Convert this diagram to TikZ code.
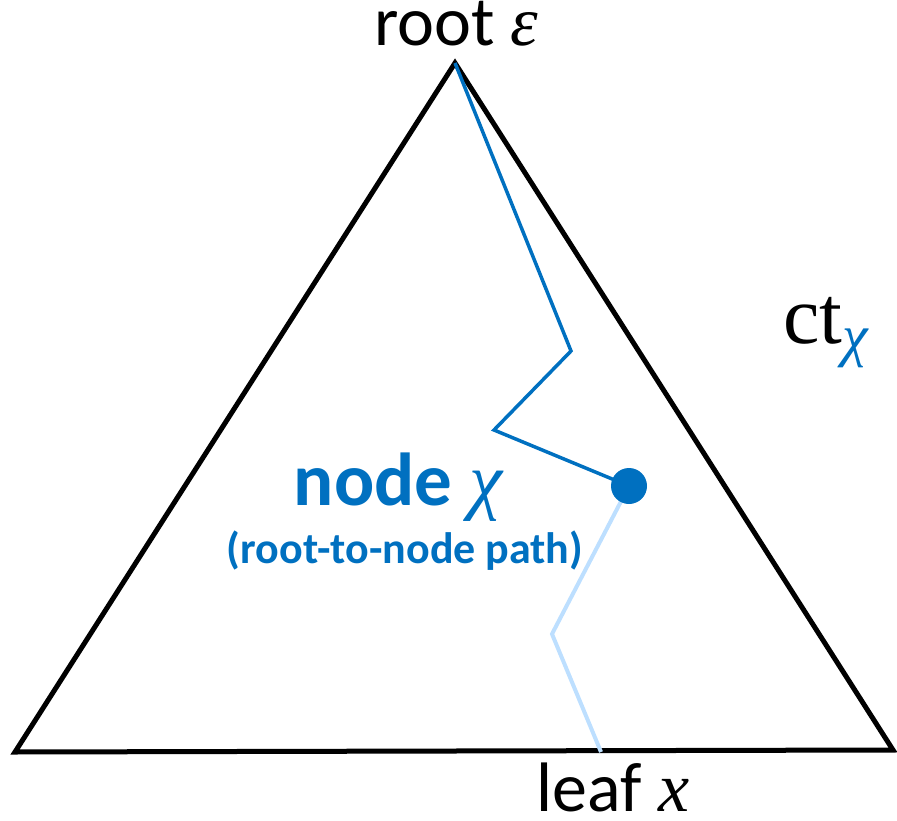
\documentclass[tikz,border=0pt]{standalone}
\usepackage{fontspec}
\setmainfont{Carlito}
\newfontfamily\symfont{Liberation Serif}
\definecolor{pathblue}{HTML}{0070C0}
\definecolor{leafblue}{HTML}{BDDFFF}
\newcommand{\sym}[1]{{\symfont\mdseries\itshape #1}}
\tikzset{
  tree/.style={line width=5pt,line join=miter},
  rootpath/.style={pathblue,line width=3.5pt,line join=miter},
  leafpath/.style={leafblue,line width=4pt,line join=miter},
  bigtxt/.style={font=\fontsize{70}{80}\selectfont,anchor=base,inner sep=0pt},
}
\begin{document}
\begin{tikzpicture}[x=1pt,y=-1pt]
    \useasboundingbox (0,0) rectangle (897,821);

    % the tree as a triangle
    \coordinate (apex) at (455,63);
    \coordinate (lft) at (15,752);
    \coordinate (rgt) at (893,750);
    \draw[tree] (apex) -- (rgt) -- (lft) -- cycle;

    % root-to-node path and the rest down to the leaf
    \coordinate (p1) at (571,351);
    \coordinate (p2) at (494,430);
    \coordinate (chi) at (629,486);
    \coordinate (q1) at (552,634);
    \coordinate (leaf) at (601,752);
    \draw[leafpath] (chi) -- (q1) -- (leaf);
    \draw[rootpath] (apex) -- (p1) -- (p2) -- (chi);
    \fill[pathblue] (chi) circle (18);

    \node[bigtxt] (rootlab) at (456,46) {root \sym{ε}};
    \node[bigtxt] (leaflab) at (613,811) {leaf \sym{x}};
    \node[bigtxt,anchor=base west,font=\fontsize{82}{90}\selectfont]
        (ctlab) at (783,343)
        {{\symfont ct}\raisebox{-12pt}{\fontsize{58}{60}\selectfont
         \textcolor{pathblue}{\sym{χ}}}};
    \node[bigtxt,text=pathblue,font=\fontsize{75}{80}\selectfont\bfseries]
        (nodelab) at (398,505) {node \sym{χ}};
    \node[bigtxt,text=pathblue,font=\fontsize{44}{50}\selectfont\bfseries]
        (sublab) at (405,563) {(root-to-node path)};
\end{tikzpicture}
\end{document}
